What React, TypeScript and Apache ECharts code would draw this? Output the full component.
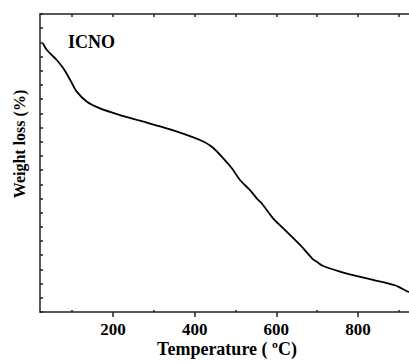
import React, { useEffect, useRef } from "react";
import * as echarts from "echarts";

const temperature = [28, 38, 62, 78, 95, 111, 136, 168, 217, 266, 340, 413, 442, 470, 491, 511, 535, 552, 564, 592, 617, 641, 666, 690, 699, 715, 756, 780, 837, 894, 903, 923, 925];
const weight = [18.94, 18.46, 17.76, 17.17, 16.35, 15.53, 14.82, 14.35, 13.88, 13.48, 12.87, 12.12, 11.65, 10.83, 10.13, 9.3, 8.6, 8.01, 7.66, 6.6, 5.9, 5.22, 4.49, 3.71, 3.54, 3.24, 2.84, 2.66, 2.26, 1.85, 1.72, 1.43, 1.41];
const majorTicks = [200, 400, 600, 800];
const minorTicks = [100, 300, 500, 700, 900];
const topTicks = [100, 200, 300, 400, 500, 600, 700, 800, 900];

const FONT = "Liberation Serif";

export default function App() {
  const ref = useRef<HTMLDivElement>(null);
  useEffect(() => {
    if (!ref.current) return;
    const chart = echarts.init(ref.current, null, { renderer: "svg" });
    const lineStyle = { color: "#222", width: 1.5 };
    const common = { min: 21, max: 925, type: "value" as const, splitLine: { show: false } };
    chart.setOption({
      animation: false,
      textStyle: { fontFamily: FONT, fontWeight: "bold" },
      grid: { left: 40, top: 14, right: 0, bottom: 52, containLabel: false },
      xAxis: [
        {
          ...common,
          position: "bottom",
          axisLine: { show: true, lineStyle },
          axisTick: { show: true, inside: false, length: 5, lineStyle, customValues: majorTicks },
          axisLabel: {
            show: true,
            customValues: majorTicks,
            margin: 9,
            formatter: "{b|{value}}",
            rich: {
              b: {
                fontFamily: FONT,
                fontWeight: "bold",
                fontSize: 17,
                color: "#000",
              },
            },
          },
        },
        {
          ...common,
          position: "bottom",
          axisLine: { show: false },
          axisTick: { show: true, inside: true, length: 2, lineStyle, customValues: minorTicks },
          axisLabel: { show: false },
        },
        {
          ...common,
          position: "top",
          axisLine: { show: true, lineStyle },
          axisTick: { show: true, inside: true, length: 3, lineStyle, customValues: topTicks },
          axisLabel: { show: false },
        },
      ],
      yAxis: {
        type: "value",
        min: 0,
        max: 21,
        interval: 1,
        splitLine: { show: false },
        axisLine: { show: true, lineStyle },
        axisTick: { show: true, inside: true, length: 3, lineStyle },
        axisLabel: { show: false },
      },
      series: [
        {
          type: "line",
          data: temperature.map((t, i) => [t, weight[i]]),
          showSymbol: false,
          smooth: 0.3,
          lineStyle: { color: "#000", width: 1.8 },
        },
      ],
      graphic: [
        {
          type: "text",
          x: 227,
          y: 349,
          style: {
            text: "Temperature ( ºC)",
            fontFamily: FONT,
            fontWeight: "bold",
            fontSize: 18,
            fill: "#000",
            align: "center",
            verticalAlign: "middle",
          },
        },
        {
          type: "text",
          x: 19,
          y: 144,
          rotation: Math.PI / 2,
          style: {
            text: "Weight loss (%)",
            fontFamily: FONT,
            fontWeight: "bold",
            fontSize: 16,
            fill: "#000",
            align: "center",
            verticalAlign: "middle",
          },
        },
        {
          type: "text",
          x: 68,
          y: 42,
          style: {
            text: "ICNO",
            fontFamily: FONT,
            fontWeight: "bold",
            fontSize: 18,
            fill: "#000",
            align: "left",
            verticalAlign: "middle",
          },
        },
      ],
    });
    return () => chart.dispose();
  }, []);
  return <div ref={ref} style={{ position: "absolute", left: 0, top: 0, width: 409, height: 364 }} />;
}
